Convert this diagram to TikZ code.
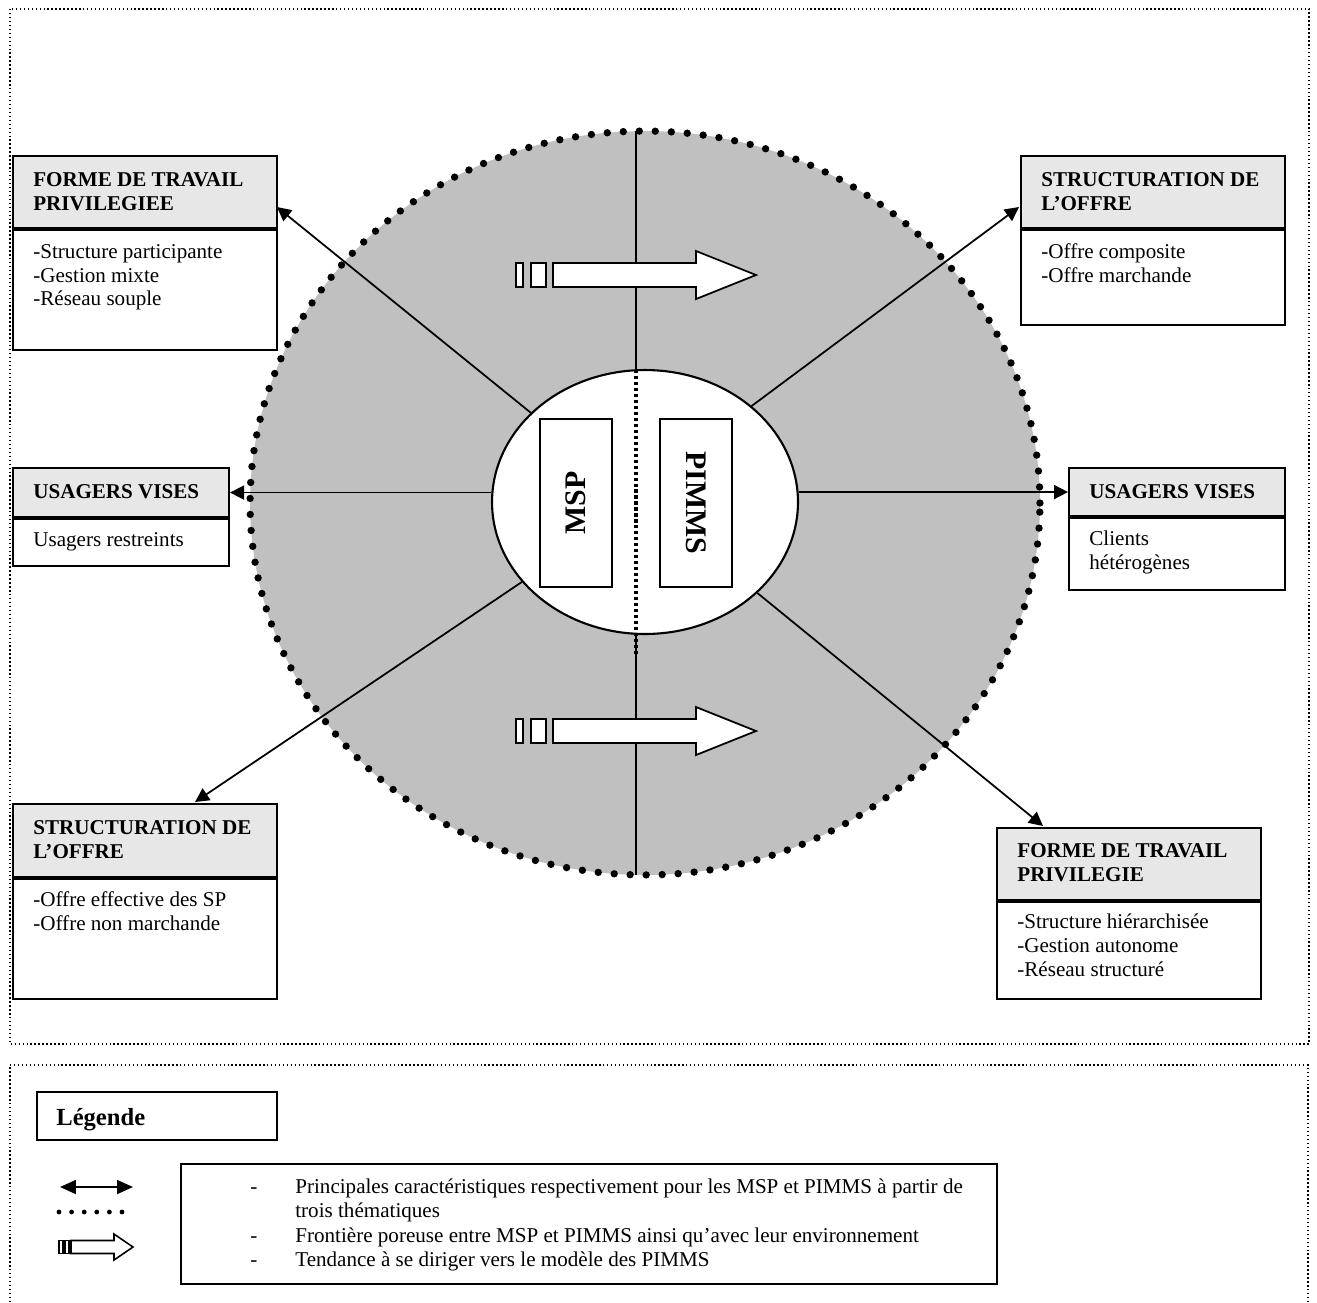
\documentclass[tikz,border=0pt]{standalone}
\usepackage{fontspec}
\setmainfont{Liberation Serif}
\usetikzlibrary{arrows.meta,shapes.geometric}
\definecolor{circgray}{RGB}{192,192,192}
\definecolor{hdrgray}{RGB}{231,231,231}
\begin{document}
\begin{tikzpicture}[x=0.02cm,y=-0.02cm,
  frame/.style={line width=0.8pt, dash pattern=on 0.8pt off 1.45pt},
  hdr/.style={draw, fill=hdrgray, line width=1.2pt, anchor=north west, inner sep=0, rectangle},
  bdy/.style={draw, fill=white, line width=1.2pt, anchor=north west, inner sep=0, rectangle},
  htxt/.style={anchor=base west, inner sep=0, font=\fontsize{12}{14}\selectfont\bfseries},
  btxt/.style={anchor=base west, inner sep=0, font=\fontsize{12}{14}\selectfont},
  conn/.style={line width=1pt, -{Triangle[length=0.28cm,width=0.28cm]}},
  divider/.style={line width=1pt},
  porous/.style={line width=1.8pt, dash pattern=on 1.8pt off 1.6pt},
  barrow/.style={draw, fill=white, line width=1pt, line join=miter},
  actor/.style={draw, fill=white, line width=1pt, inner sep=0, rectangle, minimum width=3.36cm, minimum height=1.44cm, font=\fontsize{17}{20}\selectfont\bfseries},
]
\useasboundingbox (0,0) rectangle (1317,1302);

% frames
\draw[frame] (10,9) rectangle (1309,1044);
\draw[frame] (10,1310) -- (10,1065) -- (1308,1065) -- (1308,1310);

% big grey circle
\fill[circgray] (645,503) ellipse [x radius=7.9cm, y radius=7.44cm];

% central ellipse
\node[ellipse, draw, fill=white, line width=1.2pt, minimum width=6.12cm, minimum height=5.28cm, inner sep=0] (ell) at (645,502) {};

% vertical divider
\coordinate (vtop) at (636,131);
\coordinate (vbot) at (636,875);
\coordinate (dtop) at (636,370);
\coordinate (ebot) at (636,634);
\coordinate (dbot) at (636,655);
\draw[divider] (vtop) -- (dtop);
\draw[divider] (ebot) -- (vbot);
\draw[porous] (dtop) -- (dbot);

% boxes
\node[hdr, minimum width=5.28cm, minimum height=1.44cm] (tlh) at (12,155) {};
\node[bdy, minimum width=5.28cm, minimum height=2.40cm] (tlb) at (tlh.south west) {};
\node[hdr, minimum width=5.28cm, minimum height=1.44cm] (trh) at (1020,155) {};
\node[bdy, minimum width=5.28cm, minimum height=1.90cm] (trb) at (trh.south west) {};
\node[hdr, minimum width=4.32cm, minimum height=0.98cm] (mlh) at (12,467) {};
\node[bdy, minimum width=4.32cm, minimum height=0.94cm] (mlb) at (mlh.south west) {};
\node[hdr, minimum width=4.32cm, minimum height=0.96cm] (mrh) at (1068,467) {};
\node[bdy, minimum width=4.32cm, minimum height=1.44cm] (mrb) at (mrh.south west) {};
\node[hdr, minimum width=5.28cm, minimum height=1.46cm] (blh) at (12,803) {};
\node[bdy, minimum width=5.28cm, minimum height=2.40cm] (blb) at (blh.south west) {};
\node[hdr, minimum width=5.28cm, minimum height=1.44cm] (brh) at (996,827) {};
\node[bdy, minimum width=5.28cm, minimum height=1.94cm] (brb) at (brh.south west) {};

% box texts
\node[htxt] (tl1) at (33,186) {FORME DE TRAVAIL};
\node[htxt] (tl2) at (33,210) {PRIVILEGIEE};
\node[btxt] (tl3) at (33,258) {-Structure participante};
\node[btxt] (tl4) at (33,282) {-Gestion mixte};
\node[btxt] (tl5) at (33,305) {-Réseau souple};

\node[htxt] (tr1) at (1041,186) {STRUCTURATION DE};
\node[htxt] (tr2) at (1041,210) {L’OFFRE};
\node[btxt] (tr3) at (1041,258) {-Offre composite};
\node[btxt] (tr4) at (1041,282) {-Offre marchande};

\node[htxt] (ml1) at (33,498) {USAGERS VISES};
\node[btxt] (ml2) at (33,546) {Usagers restreints};

\node[htxt] (mr1) at (1089,498) {USAGERS VISES};
\node[btxt] (mr2) at (1089,545) {Clients};
\node[btxt] (mr3) at (1089,569) {hétérogènes};

\node[htxt] (bl1) at (33,834) {STRUCTURATION DE};
\node[htxt] (bl2) at (33,858) {L’OFFRE};
\node[btxt] (bl3) at (33,906) {-Offre effective des SP};
\node[btxt] (bl4) at (33,930) {-Offre non marchande};

\node[htxt] (br1) at (1017,857) {FORME DE TRAVAIL};
\node[htxt] (br2) at (1017,881) {PRIVILEGIE};
\node[btxt] (br3) at (1017,928) {-Structure hiérarchisée};
\node[btxt] (br4) at (1017,952) {-Gestion autonome};
\node[btxt] (br5) at (1017,976) {-Réseau structuré};

% connectors
\coordinate (tlend) at (277,207);
\coordinate (trend) at (1019,207);
\coordinate (blend) at (195,802);
\coordinate (brend) at (1043,826);
\draw[conn] (ell.142) -- (tlend);
\draw[conn] (ell.42) -- (trend);
\draw[conn] (ell.213) -- (blend);
\draw[conn] (ell.321) -- (brend);
\draw[conn] (mlh.east -| ell.west) -- (mlh.east);
\draw[conn] (mrh.west -| ell.east) -- (mrh.west);

% dotted circle border
\draw[line width=4.2pt, line cap=round, dash pattern=on 0pt off 9.11pt] (645,503) ellipse [x radius=7.9cm, y radius=7.44cm];

% MSP / PIMMS
\node[actor, rotate=90] (msp) at (576,503) {MSP};
\node[actor, rotate=-90] (pimms) at (696,503) {PIMMS};

% block arrows
\foreach \yy in {275,731}{
\begin{scope}[shift={(516,\yy)}]
\draw[barrow] (0,-12) rectangle (7,12);
\draw[barrow] (15,-12) rectangle (30,12);
\draw[barrow] (37,-12) -- (180,-12) -- (180,-24) -- (240,0) -- (180,24) -- (180,12) -- (37,12) -- cycle;
\end{scope}}

% legend
\node[draw, line width=1.2pt, rectangle, minimum width=4.8cm, minimum height=0.96cm, anchor=north west, inner sep=0] (legbox) at (36,1091) {};
\node[anchor=base west, inner sep=0, font=\fontsize{14}{16}\selectfont\bfseries] (legtitle) at (56,1125) {Légende};

\coordinate (la1) at (60,1187);
\coordinate (la2) at (133,1187);
\draw[line width=1pt, {Triangle[length=0.32cm,width=0.28cm]}-{Triangle[length=0.32cm,width=0.28cm]}] (la1) -- (la2);
\foreach \i in {0,...,5} \fill (59+12.6*\i,1212) circle [radius=0.048cm];
\draw[barrow, line width=0.9pt] (59,1240.5) rectangle (63,1253.5);
\draw[barrow, line width=0.9pt] (65,1240.5) rectangle (69,1253.5);
\draw[barrow, line width=0.9pt] (71,1240.5) -- (114,1240.5) -- (114,1234) -- (133,1247) -- (114,1260) -- (114,1253.5) -- (71,1253.5) -- cycle;

\node[draw, line width=1.2pt, rectangle, minimum width=16.32cm, minimum height=2.4cm, anchor=north west, inner sep=0] (legtext) at (180,1163) {};
\node[btxt] (d1) at (250,1193) {-};
\node[btxt] (d2) at (250,1242) {-};
\node[btxt] (d3) at (250,1266) {-};
\node[btxt] (l1) at (295,1193) {Principales caractéristiques respectivement pour les MSP et PIMMS à partir de};
\node[btxt] (l2) at (295,1217) {trois thématiques};
\node[btxt] (l3) at (295,1242) {Frontière poreuse entre MSP et PIMMS ainsi qu’avec leur environnement};
\node[btxt] (l4) at (295,1266) {Tendance à se diriger vers le modèle des PIMMS};
\end{tikzpicture}
\end{document}
